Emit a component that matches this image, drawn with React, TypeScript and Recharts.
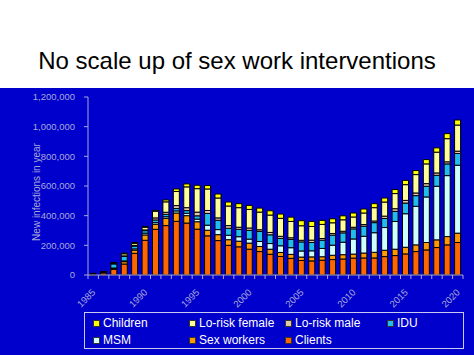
import { BarChart, Bar, XAxis, YAxis } from "recharts"

// new infections per year, thousands
const years = [
  "1985", "1986", "1987", "1988", "1989", "1990", "1991", "1992", "1993", "1994", "1995", "1996",
  "1997", "1998", "1999", "2000", "2001", "2002", "2003", "2004", "2005", "2006", "2007", "2008",
  "2009", "2010", "2011", "2012", "2013", "2014", "2015", "2016", "2017", "2018", "2019", "2020",
]
const clients = [6, 14, 38, 74, 146, 234, 308, 333, 362, 350, 309, 264, 232, 200, 190, 174, 158, 140, 125, 112, 98, 95, 100, 104, 108, 114, 115, 115, 124, 131, 142, 158, 169, 185, 203, 219]
const sexWorkers = [2, 5, 7, 16, 22, 36, 34, 49, 56, 50, 50, 38, 40, 38, 38, 41, 34, 34, 27, 27, 23, 27, 23, 29, 29, 27, 33, 38, 43, 43, 45, 45, 50, 52, 56, 63]
const msm = [0, 1, 2, 5, 8, 12, 11, 11, 14, 16, 18, 34, 34, 30, 30, 27, 34, 38, 45, 45, 41, 41, 56, 68, 84, 102, 113, 132, 153, 187, 226, 260, 307, 361, 411, 458]
const idu = [1, 2, 28, 30, 19, 17, 18, 16, 16, 18, 22, 79, 63, 47, 50, 59, 68, 59, 50, 56, 61, 56, 56, 68, 63, 68, 68, 68, 61, 68, 72, 72, 72, 74, 79, 79]
const loRiskMale = [1, 0, 2, 4, 4, 5, 14, 14, 20, 20, 25, 20, 16, 18, 14, 16, 11, 16, 14, 11, 11, 16, 11, 11, 11, 11, 11, 11, 16, 18, 18, 18, 18, 16, 14, 16]
const loRiskFemale = [1, 1, 5, 14, 13, 18, 45, 70, 95, 140, 158, 145, 134, 132, 132, 125, 119, 117, 121, 110, 98, 92, 95, 72, 77, 69, 78, 90, 95, 102, 106, 124, 133, 140, 156, 176]
const children = [0, 0, 2, 4, 7, 5, 6, 13, 17, 20, 23, 23, 27, 27, 27, 27, 27, 29, 29, 29, 34, 34, 27, 27, 27, 27, 27, 27, 27, 27, 29, 27, 29, 29, 34, 34]
const yTicks = [0, 200, 400, 600, 800, 1000, 1200]

const data = years.map((year, i) => ({
  year,
  clients: clients[i],
  sexWorkers: sexWorkers[i],
  msm: msm[i],
  idu: idu[i],
  loRiskMale: loRiskMale[i],
  loRiskFemale: loRiskFemale[i],
  children: children[i],
}))

const COLORS = {
  children: "#FFFF00",
  loRiskFemale: "#FFFF99",
  loRiskMale: "#E2C8A4",
  idu: "#22BBEE",
  msm: "#CCFFFF",
  sexWorkers: "#FF9900",
  clients: "#FF6600",
}

const BLUE = "#0000CC"
const AXIS = "#A8A8D8"
const FONT = "'Liberation Sans', Arial, sans-serif"
const BAND = 375 / years.length

const stackOrder: (keyof typeof COLORS)[] = ["clients", "sexWorkers", "msm", "idu", "loRiskMale", "loRiskFemale", "children"]

const legendRows = [
  [
    { key: "children", label: "Children" },
    { key: "loRiskFemale", label: "Lo-risk female" },
    { key: "loRiskMale", label: "Lo-risk male" },
    { key: "idu", label: "IDU" },
  ],
  [
    { key: "msm", label: "MSM" },
    { key: "sexWorkers", label: "Sex workers" },
    { key: "clients", label: "Clients" },
  ],
]
const legendCols = [8, 104, 200, 302]

function YearTick(props: any) {
  const { x, y, payload, index } = props
  const showLabel = index % 5 === 0
  const last = index === years.length - 1
  return (
    <g>
      <line x1={x - BAND / 2} x2={x - BAND / 2} y1={y} y2={y + 4} stroke={AXIS} />
      {last && <line x1={x + BAND / 2} x2={x + BAND / 2} y1={y} y2={y + 4} stroke={AXIS} />}
      {showLabel && (
        <text
          x={x + 2.7}
          y={y + 18}
          transform={`rotate(-45, ${x + 2.7}, ${y + 18})`}
          textAnchor="end"
          fontSize={9.5}
          fontFamily={FONT}
          fill={AXIS}
        >
          {payload.value}
        </text>
      )}
    </g>
  )
}

export default function App() {
  return (
    <div style={{ position: "absolute", left: 0, top: 0, width: 474, height: 355, background: "#fff", fontFamily: FONT, overflow: "hidden" }}>
      <div style={{ position: "absolute", left: 0, top: 46, width: 474, textAlign: "center", fontSize: 24, lineHeight: "30px", color: "#000" }}>
        No scale up of sex work interventions
      </div>
      <div style={{ position: "absolute", left: 0, top: 88, width: 474, height: 267, background: BLUE }}>
        <BarChart width={474} height={267} data={data} margin={{ top: 9, right: 11, left: 0, bottom: 0 }} barCategoryGap={2}>
          <XAxis
            dataKey="year"
            height={80}
            interval={0}
            tickSize={0}
            tickMargin={0}
            tickLine={false}
            axisLine={{ stroke: AXIS }}
            tick={<YearTick />}
          />
          <XAxis xAxisId="top" dataKey="year" orientation="top" height={0} tick={false} tickLine={false} axisLine={{ stroke: AXIS }} />
          <YAxis
            width={88}
            domain={[0, 1200]}
            ticks={yTicks}
            tickSize={4}
            tickMargin={9}
            tickLine={{ stroke: AXIS }}
            axisLine={{ stroke: AXIS }}
            tick={{ fill: AXIS, fontSize: 9.5, fontFamily: FONT }}
            tickFormatter={(v: number) => (v * 1000).toLocaleString("en-US")}
            label={{
              value: "New infections in year",
              angle: -90,
              position: "center",
              dx: -8,
              dy: 6,
              fill: AXIS,
              fontSize: 10,
              fontFamily: FONT,
            }}
          />
          <YAxis yAxisId="right" orientation="right" width={0} domain={[0, 1200]} tick={false} tickLine={false} axisLine={{ stroke: AXIS }} />
          {stackOrder.map((key) => (
            <Bar
              key={key}
              dataKey={key}
              stackId="a"
              fill={COLORS[key]}
              stroke="#000"
              strokeWidth={1}
              isAnimationActive={false}
            />
          ))}
        </BarChart>
        <div style={{ position: "absolute", left: 84, top: 224, width: 378, height: 35, border: "1px solid #C8C8F0" }}>
          {legendRows.map((row, r) =>
            row.map((item, c) => (
              <div
                key={item.key}
                style={{
                  position: "absolute",
                  left: legendCols[c],
                  top: 3 + r * 17,
                  height: 14,
                  display: "flex",
                  alignItems: "center",
                  color: "#fff",
                  fontSize: 12,
                  lineHeight: "14px",
                  whiteSpace: "nowrap",
                }}
              >
                <span
                  style={{
                    display: "inline-block",
                    width: 5,
                    height: 5,
                    background: COLORS[item.key as keyof typeof COLORS],
                    border: "1px solid #333",
                    marginRight: 3,
                  }}
                />
                {item.label}
              </div>
            ))
          )}
        </div>
      </div>
    </div>
  )
}
